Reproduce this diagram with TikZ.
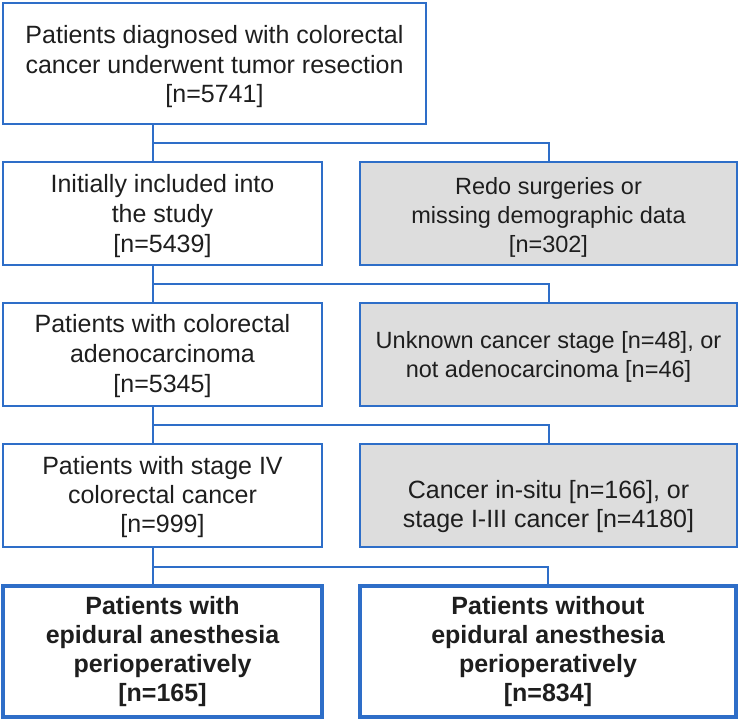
\documentclass[tikz,border=0pt]{standalone}
\usepackage{fontspec}
\setmainfont{Liberation Sans}
\definecolor{lineblue}{RGB}{46,110,200}
\definecolor{boxgray}{RGB}{221,221,221}
\definecolor{txt}{RGB}{30,30,30}
\begin{document}
\begin{tikzpicture}[x=1pt,y=-1pt,
  box/.style={draw=lineblue,line width=2pt,rectangle,inner sep=0pt},
  lbox/.style={box,minimum width=319pt,minimum height=103pt},
  rbox/.style={box,fill=boxgray,minimum width=377pt,minimum height=103pt},
  fbox/.style={box,line width=3.5pt,minimum height=131pt},
  label/.style={align=center,inner sep=0pt,text=txt,font=\fontsize{25}{29.5}\selectfont},
  labelsmall/.style={label,font=\fontsize{23.5}{29}\selectfont},
  labelbold/.style={label,font=\fontsize{25}{29}\selectfont\bfseries},
  conn/.style={draw=lineblue,line width=2pt}]
\useasboundingbox (0,0) rectangle (740,720);
% boxes
\node[box,minimum width=423pt,minimum height=121pt] (top) at (214.5,63.5) {};
\node[lbox] (b2L) at (162.5,213.5) {};
\node[rbox] (b2R) at (548.5,213.5) {};
\node[lbox] (b3L) at (162.5,354.5) {};
\node[rbox] (b3R) at (548.5,354.5) {};
\node[lbox] (b4L) at (162.5,495.5) {};
\node[rbox] (b4R) at (548.5,495.5) {};
\node[fbox,minimum width=319pt] (b5L) at (162.5,651.5) {};
\node[fbox,minimum width=376pt] (b5R) at (548,651.5) {};
% texts
\node[label] (ttop) at ([yshift=-3.5pt]top.center)
  {Patients diagnosed with colorectal\\cancer underwent tumor resection\\{}[n=5741]};
\node[label,font=\fontsize{25}{30}\selectfont] (t2L) at ([yshift=-3pt]b2L.center) {Initially included into\\the study\\{}[n=5439]};
\node[labelsmall] (t2R) at ([yshift=-4pt]b2R.center) {Redo surgeries or\\missing demographic data\\{}[n=302]};
\node[label,font=\fontsize{25}{30}\selectfont] (t3L) at ([yshift=-2pt]b3L.center) {Patients with colorectal\\adenocarcinoma\\{}[n=5345]};
\node[labelsmall] (t3R) at ([yshift=-2pt]b3R.center) {Unknown cancer stage [n=48], or\\not adenocarcinoma [n=46]};
\node[label,font=\fontsize{25}{29}\selectfont] (t4L) at ([yshift=-2pt]b4L.center) {Patients with stage IV\\colorectal cancer\\{}[n=999]};
\node[label,font=\fontsize{25}{28.5}\selectfont] (t4R) at ([yshift=-11pt]b4R.center) {Cancer in-situ [n=166], or\\stage I-III cancer [n=4180]};
\node[labelbold] (t5L) at (b5L.center) {Patients with\\epidural anesthesia\\perioperatively\\{}[n=165]};
\node[labelbold] (t5R) at (b5R.center) {Patients without\\epidural anesthesia\\perioperatively\\{}[n=834]};
% connectors
\coordinate (j1) at (153,143);
\coordinate (j2) at (153,284);
\coordinate (j3) at (153,425);
\coordinate (j4) at (153,567);
\draw[conn] (top.south -| j1) -- (b2L.north -| j1);
\draw[conn] (j1) -| (b2R.north);
\draw[conn] (b2L.south -| j2) -- (b3L.north -| j2);
\draw[conn] (j2) -| (b3R.north);
\draw[conn] (b3L.south -| j3) -- (b4L.north -| j3);
\draw[conn] (j3) -| (b4R.north);
\draw[conn] (b4L.south -| j4) -- (b5L.north -| j4);
\draw[conn] (j4) -| (b5R.north);
\end{tikzpicture}
\end{document}
